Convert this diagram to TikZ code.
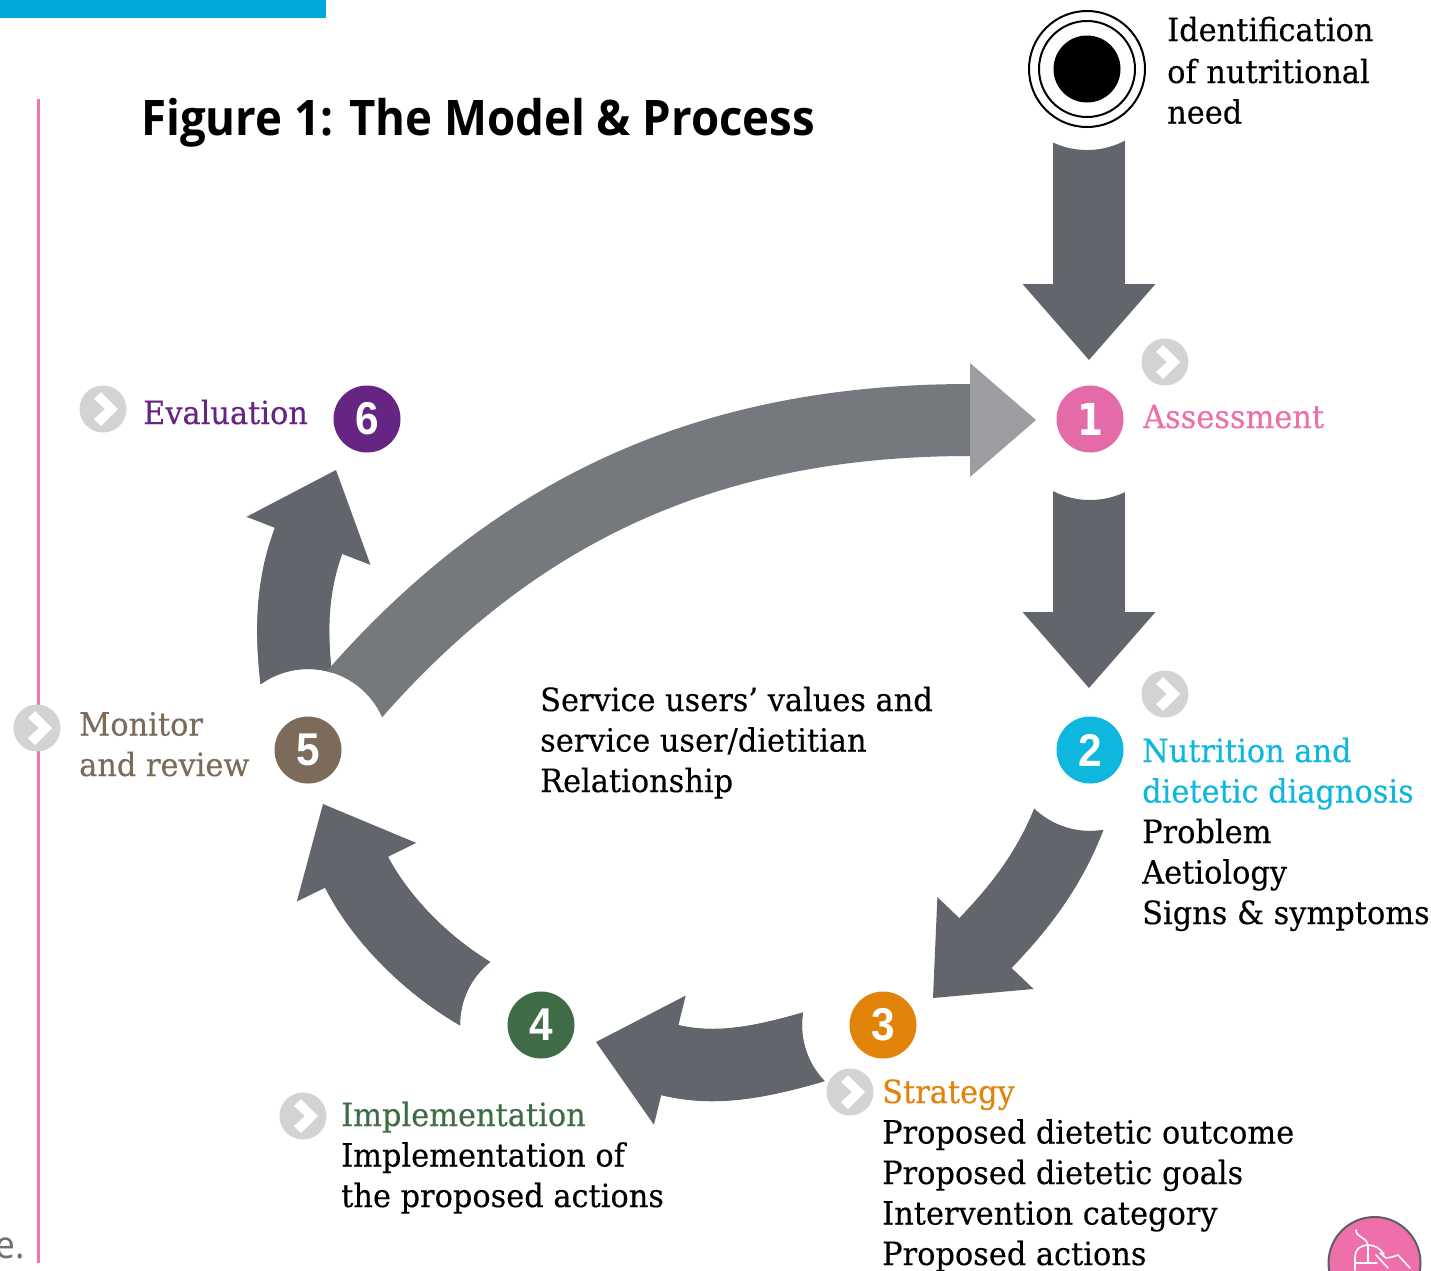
\documentclass[tikz,border=0pt]{standalone}
\usepackage{fontspec}
\usetikzlibrary{arrows.meta}
\newfontfamily\slabfont[FakeStretch=0.95,FakeBold=0.25]{DejaVu Serif}
\newfontfamily\titlefont[FakeStretch=0.93]{Open Sans}
\newfontfamily\digitfont[FakeStretch=0.92]{Liberation Sans}
\newfontfamily\onefont[FakeStretch=0.85]{DejaVu Sans}
\definecolor{cone}{HTML}{E46BA8}
\definecolor{conetext}{HTML}{EE6FA9}
\definecolor{ruleline}{HTML}{F472B0}
\definecolor{ctwo}{HTML}{0DB7DD}
\definecolor{cthree}{HTML}{E2840A}
\definecolor{cfour}{HTML}{3F6B46}
\definecolor{cfive}{HTML}{7C6B5A}
\definecolor{csix}{HTML}{662483}
\definecolor{arrowdark}{HTML}{62656C}
\definecolor{arrowmid}{HTML}{75787C}
\definecolor{arrowlight}{HTML}{9C9DA0}
\definecolor{badgegrey}{HTML}{D3D3D3}
\definecolor{barblue}{HTML}{00A9DC}
\definecolor{edgegrey}{HTML}{5C5F66}
\definecolor{fragment}{HTML}{6D6E71}
\tikzset{
  x=1pt,y=-1pt,
  numdot/.style={circle,minimum size=67pt,inner sep=0pt,text=white,font=\digitfont\bfseries\fontsize{46}{46}\selectfont},
  lbl/.style={anchor=base west,inner sep=0pt,align=left,font=\slabfont\fontsize{32}{40.5}\selectfont},
  blockarrow/.style={draw=arrowdark,line width=72pt,-{Triangle[length=76pt,width=133pt,line width=0pt,fill=arrowdark,color=arrowdark]}},
  shaftonly/.style={draw=arrowdark,line width=72pt,shorten >=70pt},
  longarrow/.style={draw=arrowmid,line width=72pt,-{Triangle[length=66pt,width=114pt,line width=0pt,fill=arrowlight,color=arrowlight]}},
  chevbadge/.pic={
    \fill[badgegrey] (0,0) circle (23.5pt);
    \fill[white] (-9,-10) -- (-2,-17) -- (15,0) -- (-2,17) -- (-9,10) -- (2,0) -- cycle;
  },
}
\newcommand{\holeclip}[1]{\clip (0,0) rectangle (1431,1270) (#1) circle (81pt);}
\begin{document}
\begin{tikzpicture}
\clip (0,0) rectangle (1431,1270);
\fill[white] (0,0) rectangle (1431,1270);
\fill[barblue] (0,0) rectangle (326,18);
\draw[ruleline,line width=3pt] (38,99) -- (38,1263);
\node[anchor=base west,inner sep=0pt,text=fragment,font=\titlefont\fontsize{38}{38}\selectfont] (frag) at (-5,1258) {e.};
\node[anchor=base west,inner sep=0pt,font=\titlefont\bfseries\fontsize{49}{49}\selectfont] (title) at (141,135) {Figure 1: The Model \& Process};
% nodes
\node[circle,draw=black,line width=2pt,fill=white,minimum size=116pt,inner sep=0pt] (start) at (1087,69) {};
\node[circle,draw=black,line width=2pt,fill=white,minimum size=96pt,inner sep=0pt] (startring) at (1087,69) {};
\node[circle,fill=black,minimum size=67pt,inner sep=0pt] (startcore) at (1087,69) {};
\node[numdot,fill=cone,font=\onefont\bfseries\fontsize{44}{44}\selectfont] (n1) at (1090,419) {1};
\node[numdot,fill=ctwo] (n2) at (1090,750) {2};
\node[numdot,fill=cthree] (n3) at (883,1025) {3};
\node[numdot,fill=cfour] (n4) at (541,1025) {4};
\node[numdot,fill=cfive] (n5) at (308,750) {5};
\node[numdot,fill=csix] (n6) at (367,419) {6};
% tip coordinates
\coordinate (tipA) at (1089,360);
\coordinate (tipB) at (1089,688);
\coordinate (tipC) at (933,998);
\coordinate (tipD) at (596,1042);
\coordinate (tipE) at (323,804);
\coordinate (tipF) at (336,470);
\coordinate (tipG) at (1036,420);
% block arrows
\begin{scope}[even odd rule]\holeclip{start}
\draw[blockarrow] (start.south -| tipA) -- (tipA);
\end{scope}
\begin{scope}[even odd rule]\holeclip{n1}
\draw[blockarrow] (n1.south -| tipB) -- (tipB);
\end{scope}
\begin{scope}[even odd rule]\holeclip{n2}
\draw[blockarrow,line width=72pt] (n2) .. controls (1059,863) and (1017,910) .. (tipC);
\draw[shaftonly,line width=72pt] (n2) .. controls (1059,863) and (1017,910) .. (tipC);
\end{scope}
\begin{scope}[even odd rule]\holeclip{n3}
\draw[blockarrow] (n3) .. controls (765,1063) and (718,1072) .. (tipD);
\draw[shaftonly] (n3) .. controls (765,1063) and (718,1072) .. (tipD);
\end{scope}
\begin{scope}[even odd rule]\holeclip{n4}
\draw[blockarrow,line width=70pt] (n4) .. controls (435,979) and (379,918) .. (tipE);
\draw[shaftonly,line width=70pt] (n4) .. controls (435,979) and (379,918) .. (tipE);
\end{scope}
\begin{scope}[even odd rule]\holeclip{n5}
\draw[blockarrow] (n5) .. controls (288,640) and (291,586) .. (tipF);
\draw[shaftonly] (n5) .. controls (288,640) and (291,586) .. (tipF);
\draw[longarrow] (n5) .. controls (500,515) and (700,420) .. (tipG);
\end{scope}
% badges
\pic at (1165,362) {chevbadge};
\pic at (1165,694) {chevbadge};
\pic at (850,1092) {chevbadge};
\pic at (303,1116) {chevbadge};
\pic at (103,409) {chevbadge};
\pic at (37,728) {chevbadge};
% labels
\node[lbl] (need) at (1167,123.5) {Identification\\[1.5pt]of nutritional\\need};
\node[lbl,text=conetext] (assess) at (1143,428) {Assessment};
\node[lbl] (diag) at (1142,924) {\textcolor{ctwo}{Nutrition and}\\\textcolor{ctwo}{dietetic diagnosis}\\Problem\\Aetiology\\Signs \& symptoms};
\node[lbl] (strat) at (882,1265) {\textcolor{cthree}{Strategy}\\Proposed dietetic outcome\\Proposed dietetic goals\\Intervention category\\Proposed actions};
\node[lbl] (impl) at (341,1207) {\textcolor{cfour}{Implementation}\\Implementation of\\the proposed actions};
\node[lbl,text=cfive] (monitor) at (79,776) {Monitor\\and review};
\node[lbl,text=csix] (eval) at (143,424) {Evaluation};
\node[lbl] (centre) at (540,792) {Service users’ values and\\service user/dietitian\\Relationship};
% mouse icon
\node[circle,draw=edgegrey,line width=2pt,fill=conetext,minimum size=92pt,inner sep=0pt] (icon) at (1374.5,1263) {};
\draw[white,line width=1.6pt,line cap=round,line join=round]
  (1356,1230) .. controls (1356,1238) and (1366,1236) .. (1368,1245)
  (1355,1270) -- (1355,1258) .. controls (1355,1248) and (1362,1245) .. (1368,1245) .. controls (1374,1245) and (1380,1248) .. (1384,1254)
  (1355,1263) -- (1377,1263)
  (1368,1245) -- (1368,1263)
  (1376,1255) -- (1388,1268)
  (1380,1253) -- (1386,1258) -- (1392,1257) -- (1398,1255) -- (1410,1268);
\end{tikzpicture}
\end{document}
